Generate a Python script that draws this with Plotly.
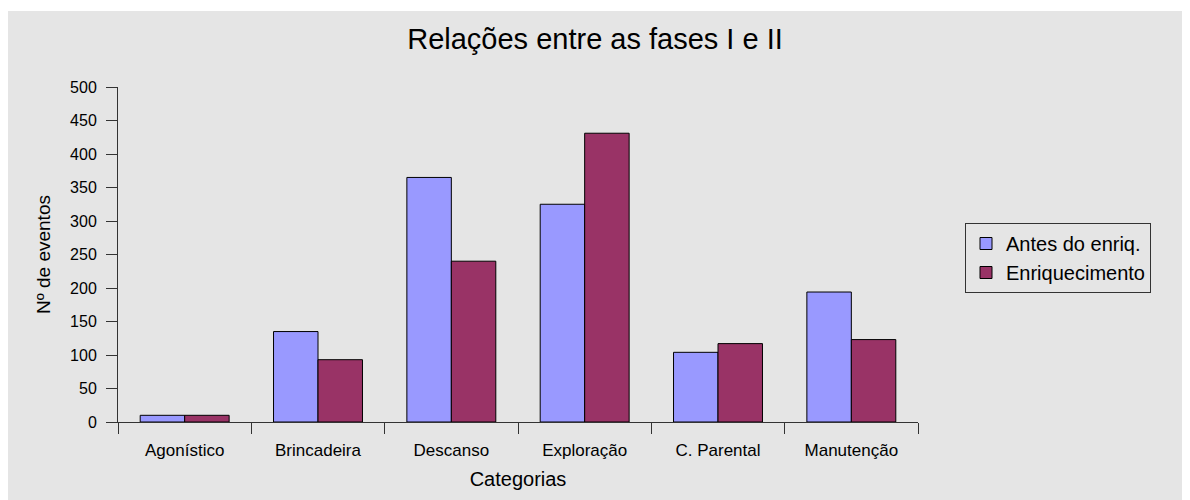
import plotly.graph_objects as go

categories = ["Agonístico", "Brincadeira", "Descanso", "Exploração", "C. Parental", "Manutenção"]
antes = [10, 135, 365, 325, 104, 194]
enriquecimento = [10, 93, 240, 431, 117, 123]
series_names = ["Antes do enriq.", "Enriquecimento"]
y_ticks = [0, 50, 100, 150, 200, 250, 300, 350, 400, 450, 500]

FONT = "Liberation Sans, Arial, sans-serif"
GREY = "#E5E5E5"
AX = "#333333"

fig = go.Figure()
fig.add_trace(go.Bar(x=categories, y=antes, name=series_names[0],
                     marker=dict(color="#9999FF", line=dict(color="black", width=1))))
fig.add_trace(go.Bar(x=categories, y=enriquecimento, name=series_names[1],
                     marker=dict(color="#993366", line=dict(color="black", width=1))))

# the page body has an 8px margin; figure fills the rest of the window
W, H = 1182, 492
L, R, T, B = 110, 272, 79, 78
pw, ph = W - L - R, H - T - B

# thin white strip at the very top (reference grey starts a little lower)
fig.add_shape(type="rect", xref="paper", yref="paper", layer="above",
              x0=-L / pw, x1=(W - L) / pw, y0=(H - B - 3) / ph, y1=(H - B) / ph,
              fillcolor="white", line=dict(width=0))

fig.update_layout(
    width=W, height=H,
    margin=dict(l=L, r=R, t=T, b=B, pad=0),
    paper_bgcolor=GREY, plot_bgcolor=GREY,
    barmode="group", bargap=0.333, bargroupgap=0,
    font=dict(family=FONT, color="black"),
    title=dict(text="Relações entre as fases I e II", x=587 / W, xref="container", xanchor="center",
               y=1 - 31 / H, yref="container", yanchor="middle", font=dict(size=29, family=FONT)),
    legend=dict(x=(957 - L) / pw, y=(414 - 215) / ph, xanchor="left", yanchor="top",
                bgcolor=GREY, bordercolor=AX, borderwidth=1,
                font=dict(size=20, family=FONT), tracegroupgap=0),
    showlegend=True,
)
fig.update_xaxes(showline=True, linecolor=AX, linewidth=1,
                 ticks="outside", tickson="boundaries", ticklen=11, tickcolor=AX,
                 tickfont=dict(size=17, family=FONT), showgrid=False, ticklabelstandoff=13,
                 title=dict(text="Categorias", font=dict(size=20, family=FONT), standoff=12))
fig.update_yaxes(range=[0, 500], tickvals=y_ticks, showline=True, linecolor=AX, linewidth=1,
                 ticks="outside", ticklen=11, tickcolor=AX, showgrid=False, zeroline=False,
                 tickfont=dict(size=16, family=FONT), ticklabelstandoff=6,
                 title=dict(text="Nº de eventos", font=dict(size=19, family=FONT), standoff=14))

fig.write_html("out.html")
